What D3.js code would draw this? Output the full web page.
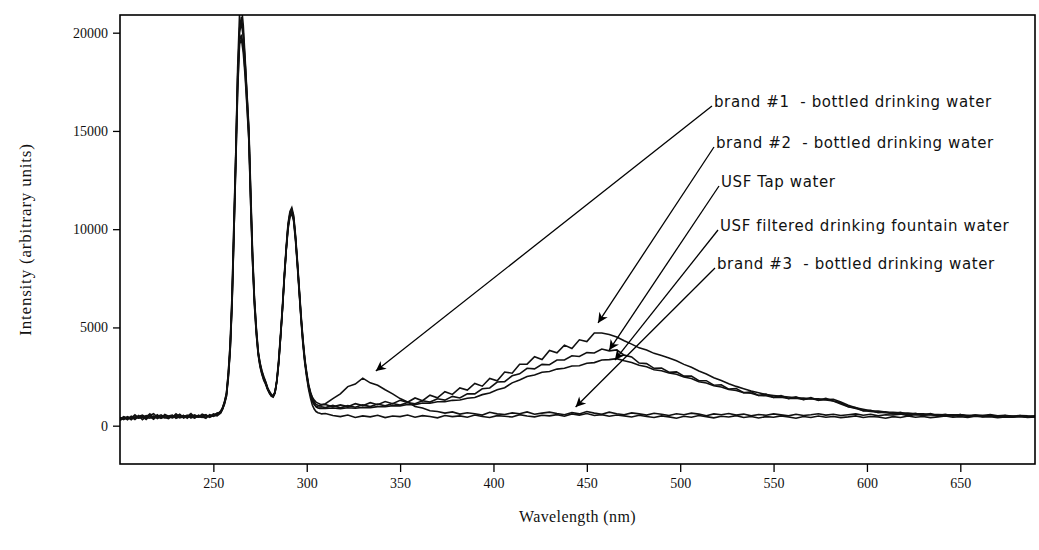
<!DOCTYPE html>
<html>
<head>
<meta charset="utf-8">
<script src="https://cdn.jsdelivr.net/npm/d3@7"></script>
<style>
  body { margin: 0; background: #fff; }
  svg { display: block; }
</style>
</head>
<body>
<svg id="chart" width="1039" height="550"></svg>
<script>
// wavelength sampling (nm), shared by every spectrum
const wavelength = [
  200,202,204,206,208,210,212,214,216,218,220,222,224,226,228,230,232,234,236,238,240,242,244,246,248,250,252,254,
  255,256,257,258,259,260,261,262,263,264,265,266,267,268,269,270,271,272,273,274,275,276,277,278,279,280,
  281,282,283,284,285,286,287,288,289,290,291,292,293,294,295,296,297,298,299,300,301,302,303,304,305,306,307,308,
  310,314,318,322,326,330,334,338,342,346,350,354,358,362,366,370,374,378,382,386,390,394,398,402,406,410,
  414,418,422,426,430,434,438,442,446,450,454,458,462,466,470,474,478,482,486,490,494,498,502,506,510,514,
  518,522,526,530,534,538,542,546,550,554,558,562,566,570,574,578,582,586,590,594,598,602,606,610,614,618,
  622,626,630,634,638,642,646,650,654,658,662,666,670,674,678,682,686,690
];

// intensities (arbitrary units)
const brand1 = [
  350,420,300,480,390,520,310,450,600,380,470,550,420,360,510,440,580,390,470,620,410,530,460,380,560,490,620,700,
  850,1150,1500,2400,3800,6100,9600,13800,18200,20900,21400,20400,18700,16900,15200,12000,8800,6500,5000,3800,
  3200,2800,2500,2250,1950,1750,1600,1520,1700,2250,3200,4500,5900,7500,8900,10100,10700,10900,10500,9500,
  8200,6800,5400,4200,3300,2600,2050,1700,1450,1300,1200,1150,1100,1080,
  1120,1380,1620,1990,2120,2420,2180,2060,1830,1620,
  1380,1210,980,900,760,720,640,700,590,660,
  610,540,680,600,570,650,610,700,580,640,
  690,620,560,670,600,720,640,580,690,610,
  560,650,600,540,630,580,520,610,560,640,
  590,510,600,560,620,540,590,500,570,530,
  600,550,500,580,520,560,610,540,580,520,
  560,600,530,580,500,560,540,590,510,560,
  530,580,500,550,520,570,490,540,510,560,
  500,530,480,520,500,490
];
const brand2 = [
  420,310,460,380,550,400,480,350,520,610,430,390,570,480,420,600,450,520,380,550,470,430,590,510,440,600,550,760,
  920,1250,1650,2700,4200,6700,10400,13900,17800,20000,20500,19800,18400,16700,14900,11700,8600,6400,4900,3750,
  3150,2750,2450,2200,1900,1700,1560,1510,1720,2350,3400,4700,6100,7700,9100,10300,10900,11100,10700,9700,
  8400,7000,5600,4400,3400,2700,2100,1700,1400,1200,1080,1040,1020,1050,
  1080,960,1060,970,1120,1020,1170,1070,1230,1120,
  1290,1190,1410,1270,1550,1420,1730,1590,1920,1810,
  2150,2010,2400,2280,2730,2670,3130,3130,3510,3370,
  3830,3710,4100,3930,4370,4280,4720,4720,4640,4510,
  4320,4150,3960,3850,3680,3570,3440,3300,3120,2970,
  2780,2630,2440,2300,2140,2000,1880,1760,1680,1580,
  1540,1490,1460,1420,1400,1370,1370,1330,1340,1200,
  1040,910,840,760,740,700,680,650,640,610,
  600,580,570,560,550,540,530,520,520,500,
  500,490,490,480,480,470
];
const usfTap = [
  280,380,350,450,320,470,540,420,380,500,360,480,520,450,390,470,560,430,500,460,390,520,480,560,420,510,640,680,
  880,1180,1580,2550,3900,6300,9800,13300,17200,19600,19900,19300,18000,16400,14600,11300,8300,6200,4700,3650,
  3050,2650,2350,2150,1870,1680,1530,1480,1680,2280,3250,4550,5950,7550,8950,10150,10750,10950,10550,9550,
  8250,6850,5450,4250,3250,2550,1950,1550,1250,1080,990,960,950,960,
  920,1030,910,1020,940,1060,970,1100,1010,1130,
  1050,1180,1120,1270,1200,1370,1300,1490,1410,1620,
  1620,1880,1920,2220,2240,2540,2640,2920,2890,3120,
  3100,3340,3340,3560,3520,3720,3700,3900,3810,3860,
  3590,3500,3190,3160,2920,2930,2720,2740,2520,2530,
  2290,2290,2060,2080,1860,1890,1680,1720,1540,1610,
  1440,1530,1380,1470,1330,1430,1290,1390,1260,1170,
  960,920,750,780,660,710,600,680,560,630,
  530,610,510,580,490,570,470,540,460,530,
  450,520,440,510,430,490
];
const usfFiltered = [
  400,350,430,300,460,380,420,510,450,330,520,460,400,490,540,380,450,510,420,480,550,440,500,430,530,470,560,720,
  950,1220,1620,2650,4100,6500,10200,13700,17600,20200,20800,20000,18500,16800,15000,11600,8550,6350,4850,3700,
  3100,2700,2400,2200,1900,1700,1550,1500,1700,2300,3300,4600,6000,7600,9000,10200,10800,11000,10600,9600,
  8300,6900,5500,4300,3300,2600,2000,1600,1300,1100,960,900,880,880,
  880,900,870,910,890,930,920,970,960,1020,
  1010,1080,1070,1150,1140,1220,1220,1290,1310,1400,
  1430,1580,1660,1830,1930,2180,2330,2500,2580,2720,
  2760,2880,2920,3040,3050,3180,3210,3340,3360,3410,
  3300,3220,3080,3000,2850,2800,2680,2620,2480,2400,
  2240,2170,2030,1970,1840,1790,1680,1650,1540,1520,
  1440,1450,1380,1400,1340,1370,1310,1310,1260,1100,
  970,870,780,730,680,660,620,620,580,580,
  550,550,530,530,510,510,490,490,480,480,
  470,470,460,460,450,440
];
const brand3 = [
  330,460,390,410,360,440,470,320,500,420,560,380,450,410,470,520,400,460,540,390,500,450,420,530,470,550,500,650,
  860,1100,1500,2500,3850,6200,9700,13200,17000,19400,19700,19000,17800,16200,14500,11200,8300,6100,4650,3600,
  3000,2600,2300,2100,1850,1650,1500,1450,1650,2250,3200,4500,5900,7500,8900,10000,10600,10800,10400,9400,
  8100,6700,5300,4100,3150,2450,1850,1400,1050,850,720,660,630,600,
  620,520,460,540,420,500,450,530,410,490,
  460,540,430,510,470,400,520,460,500,430,
  540,470,420,510,480,440,560,490,450,530,
  500,560,480,600,540,620,520,560,480,540,
  500,440,530,470,420,500,450,380,480,430,
  520,460,400,480,440,510,420,470,390,460,
  430,500,440,380,470,420,490,430,470,410,
  450,500,420,470,440,380,460,420,490,430,
  470,410,450,490,430,460,420,480,440,460,
  410,450,430,470,420,440
];

const seriesNames = [
  'brand #1  - bottled drinking water',
  'brand #2  - bottled drinking water',
  'USF Tap water',
  'USF filtered drinking fountain water',
  'brand #3  - bottled drinking water'
];
const seriesValues = [brand1, brand2, usfTap, usfFiltered, brand3];

// where each callout arrow lands on its spectrum: [wavelength, intensity]
const arrowTips = [[337, 2780], [456, 5230], [462, 3850], [465, 3340], [444, 950]];

const xTicks = [250, 300, 350, 400, 450, 500, 550, 600, 650];
const yTicks = [0, 5000, 10000, 15000, 20000];

const plot = {left: 120, right: 1035, top: 15, bottom: 464};
// callout text anchors (px)
const labelPos = [[714, 102], [716, 143], [721, 182], [720, 226], [717, 264]];

const svg = d3.select('#chart');

const x = d3.scaleLinear().domain([200, 690]).range([plot.left, plot.right]);
const y = d3.scaleLinear().domain([-1950, 20900]).range([plot.bottom, plot.top]);

svg.append('defs').append('clipPath').attr('id', 'plot-clip')
  .append('rect')
  .attr('x', plot.left).attr('y', plot.top)
  .attr('width', plot.right - plot.left).attr('height', plot.bottom - plot.top);

svg.select('defs').append('marker')
  .attr('id', 'head')
  .attr('viewBox', '0 0 10 10')
  .attr('refX', 10).attr('refY', 5)
  .attr('markerWidth', 12).attr('markerHeight', 10)
  .attr('markerUnits', 'userSpaceOnUse')
  .attr('orient', 'auto')
  .append('path')
  .attr('d', 'M0,0 L10,5 L0,10 L3,5 Z')
  .attr('fill', '#000');

// axes
const yAxis = svg.append('g')
  .attr('transform', `translate(${plot.left},0)`)
  .call(d3.axisLeft(y).tickValues(yTicks).tickSize(7).tickPadding(5).tickFormat(d3.format('d')));

const xAxis = svg.append('g')
  .attr('transform', `translate(0,${plot.bottom})`)
  .call(d3.axisBottom(x).tickValues(xTicks).tickSize(8).tickPadding(6));

[xAxis, yAxis].forEach((g) => {
  g.select('.domain').remove();
  g.selectAll('line').attr('stroke', '#000').attr('stroke-width', 1.3);
  g.selectAll('text')
    .attr('fill', '#111')
    .style('font-family', '"Liberation Serif", "DejaVu Serif", serif')
    .style('font-size', '14px');
});

// spectra
const line = d3.line()
  .x((d, i) => x(wavelength[i]))
  .y((d) => y(d));

const lines = svg.append('g').attr('clip-path', 'url(#plot-clip)');
lines.selectAll('path')
  .data(seriesValues)
  .join('path')
  .attr('d', line)
  .attr('fill', 'none')
  .attr('stroke', '#111')
  .attr('stroke-width', 1.6);

// callouts
const notes = svg.append('g').attr('clip-path', 'url(#plot-clip)');

notes.selectAll('line')
  .data(arrowTips)
  .join('line')
  .attr('x1', (d, i) => labelPos[i][0] - 2)
  .attr('y1', (d, i) => labelPos[i][1] + 4)
  .attr('x2', (d) => x(d[0]))
  .attr('y2', (d) => y(d[1]))
  .attr('stroke', '#000')
  .attr('stroke-width', 1.3)
  .attr('marker-end', 'url(#head)');

notes.selectAll('text')
  .data(seriesNames)
  .join('text')
  .attr('x', (d, i) => labelPos[i][0])
  .attr('y', (d, i) => labelPos[i][1] + 5)
  .text((d) => d)
  .attr('fill', '#111')
  .style('font-family', '"DejaVu Sans", Verdana, sans-serif')
  .style('font-size', '15px')
  .style('letter-spacing', '0.6px')
  .style('white-space', 'pre');

// frame
svg.append('rect')
  .attr('x', plot.left).attr('y', plot.top)
  .attr('width', plot.right - plot.left).attr('height', plot.bottom - plot.top)
  .attr('fill', 'none')
  .attr('stroke', '#000')
  .attr('stroke-width', 1.6);

// axis titles
svg.append('text')
  .attr('x', (plot.left + plot.right) / 2)
  .attr('y', 522)
  .attr('text-anchor', 'middle')
  .attr('fill', '#111')
  .style('font-family', '"Liberation Serif", "DejaVu Serif", serif')
  .style('font-size', '16px')
  .style('letter-spacing', '0.4px')
  .text('Wavelength (nm)');

svg.append('text')
  .attr('transform', `translate(31,${(plot.top + plot.bottom) / 2}) rotate(-90)`)
  .attr('text-anchor', 'middle')
  .attr('fill', '#111')
  .style('font-family', '"Liberation Serif", "DejaVu Serif", serif')
  .style('font-size', '17px')
  .style('letter-spacing', '0.8px')
  .text('Intensity (arbitrary units)');
</script>
</body>
</html>
